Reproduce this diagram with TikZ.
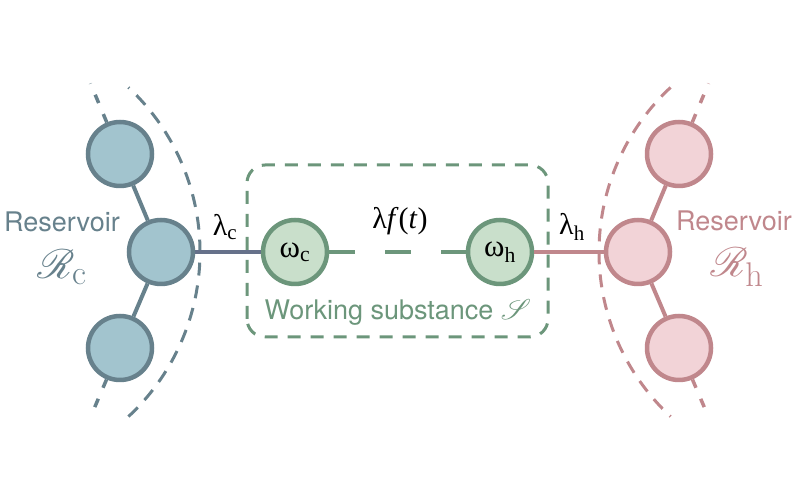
\documentclass[tikz,border=0pt]{standalone}
\usepackage{fontspec}
\usepackage{mathrsfs}
\usetikzlibrary{calc}
\newfontfamily\helv{TeX Gyre Heros}
\newfontfamily\tms{Liberation Serif}
\definecolor{coldfill}{HTML}{A2C4CE}
\definecolor{colddraw}{HTML}{67818C}
\definecolor{coldline}{HTML}{66718A}
\definecolor{hotfill}{HTML}{F2D3D7}
\definecolor{hotdraw}{HTML}{C0878C}
\definecolor{sysfill}{HTML}{C9DFCB}
\definecolor{sysdraw}{HTML}{6C967B}

\begin{document}
\begin{tikzpicture}[x=1pt,y=1pt,
    site/.style={circle,draw,line width=4.5pt,minimum size=64pt,inner sep=0pt},
    cold/.style={site,draw=colddraw,fill=coldfill},
    hot/.style={site,draw=hotdraw,fill=hotfill},
    sys/.style={site,draw=sysdraw,fill=sysfill,font=\fontsize{31}{34}\tms},
    bond/.style={line width=4pt},
    stub/.style={line width=3.5pt,dash pattern=on 9pt off 12pt},
    edge/.style={line width=3pt,dash pattern=on 13pt off 10pt},
    lab/.style={font=\fontsize{27}{30}\helv},
    greek/.style={font=\fontsize{30}{32}\tms},
    cal/.style={font=\fontsize{24.88}{28}\selectfont,scale=1.65,inner sep=1pt}]
    \useasboundingbox(0,0)rectangle(800,500);

    % working substance
    \draw[edge,sysdraw,rounded corners=18pt](247,163)rectangle(548,335);
    \node[sys](wc)at(295,248){ω\textsubscript{c}};
    \node[sys](wh)at(500,248){ω\textsubscript{h}};
    \draw[bond,sysdraw,dash pattern=on 26pt off 30pt](wc)--(wh);
    \node[greek]at(400,279){λ\textit{f}(\textit{t})};
    \node[lab,text=sysdraw]at(398,188){Working substance \scalebox{1.15}{$\mathscr{S}$}};

    % cold reservoir
    \node[cold](Rc)at(161,248){};
    \node[cold](Rct)at(120,346){};
    \node[cold](Rcb)at(120,152){};
    \draw[bond,colddraw](Rc)--(Rct);
    \draw[bond,colddraw](Rc)--(Rcb);
    \draw[stub,colddraw](Rct)--($(Rc)!1.72!(Rct)$);
    \draw[stub,colddraw](Rcb)--($(Rc)!1.72!(Rcb)$);
    \draw[edge,colddraw](-25,248)++(-47:225)arc[start angle=-47,end angle=47,radius=225];
    \draw[bond,coldline](Rc)--(wc);
    \node[greek]at(225,273){λ\textsubscript{c}};
    \node[lab,text=colddraw]at(62,278){Reservoir};
    \node[cal,text=colddraw]at(62,233){$\mathscr{R}_{\mathrm{c}}$};

    % hot reservoir
    \node[hot](Rh)at(638,248){};
    \node[hot](Rht)at(679,346){};
    \node[hot](Rhb)at(679,152){};
    \draw[bond,hotdraw](Rh)--(Rht);
    \draw[bond,hotdraw](Rh)--(Rhb);
    \draw[stub,hotdraw](Rht)--($(Rh)!1.72!(Rht)$);
    \draw[stub,hotdraw](Rhb)--($(Rh)!1.72!(Rhb)$);
    \draw[edge,hotdraw](824,248)++(133:225)arc[start angle=133,end angle=227,radius=225];
    \draw[bond,hotdraw](wh)--(Rh);
    \node[greek]at(572,273){λ\textsubscript{h}};
    \node[lab,text=hotdraw]at(734,279){Reservoir};
    \node[cal,text=hotdraw]at(737,233){$\mathscr{R}_{\mathrm{h}}$};
\end{tikzpicture}
\end{document}
